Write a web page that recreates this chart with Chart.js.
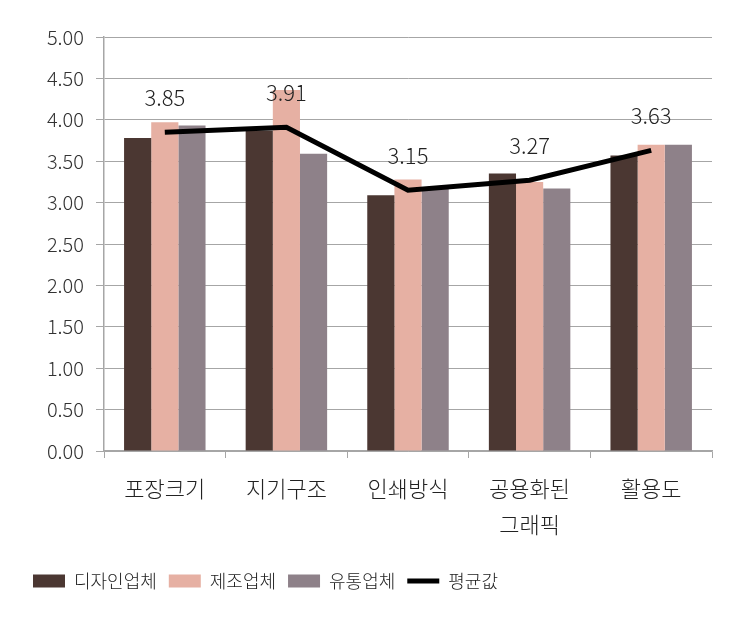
<!DOCTYPE html>
<html>
<head>
<meta charset="utf-8">
<script src="https://cdn.jsdelivr.net/npm/chart.js@4/dist/chart.umd.min.js"></script>
<style>
html,body{margin:0;padding:0;background:#fff;}
#wrap{width:749px;height:621px;position:relative;}
</style>
</head>
<body>
<div id="wrap"><canvas id="c" width="749" height="621"></canvas></div>
<script>
const categories = ['포장크기', '지기구조', '인쇄방식', ['공용화된', '그래픽'], '활용도'];
const designValues = [3.78, 3.87, 3.09, 3.35, 3.57];
const makerValues = [3.97, 4.36, 3.28, 3.25, 3.70];
const distribValues = [3.93, 3.59, 3.17, 3.17, 3.70];
const averageValues = [3.85, 3.91, 3.15, 3.27, 3.63];
const seriesNames = ['디자인업체', '제조업체', '유통업체', '평균값'];
const yTicks = [0, 0.5, 1, 1.5, 2, 2.5, 3, 3.5, 4, 4.5, 5];

const FONT = "'Noto Sans CJK KR Light', 'Noto Sans CJK KR', 'Noto Sans', sans-serif";
Chart.defaults.font.family = FONT;
Chart.defaults.font.weight = '300';
Chart.defaults.color = '#333';

const LEG_PAD = 12;
const PAD_LEFT = 33 - LEG_PAD;

const labelPlugin = {
  id: 'avgLabels',
  afterDatasetsDraw(chart) {
    const meta = chart.getDatasetMeta(3);
    const ctx = chart.ctx;
    ctx.save();
    ctx.font = "300 22px " + FONT;
    ctx.fillStyle = '#222';
    ctx.textAlign = 'center';
    ctx.textBaseline = 'middle';
    meta.data.forEach((pt, i) => {
      ctx.fillText(averageValues[i].toFixed(2), pt.x, pt.y - 35);
    });
    ctx.restore();
  }
};

new Chart(document.getElementById('c'), {
  data: {
    labels: categories,
    datasets: [
      { type: 'bar', label: seriesNames[0], data: designValues, backgroundColor: '#4b3732', order: 1 },
      { type: 'bar', label: seriesNames[1], data: makerValues, backgroundColor: '#e6b0a3', order: 1 },
      { type: 'bar', label: seriesNames[2], data: distribValues, backgroundColor: '#8e8189', order: 1 },
      { type: 'line', label: seriesNames[3], data: averageValues, borderColor: '#000', backgroundColor: '#000',
        borderWidth: 5, pointRadius: 0, tension: 0, order: 0 }
    ]
  },
  options: {
    responsive: false,
    animation: false,
    layout: { padding: { left: PAD_LEFT, right: 37, top: 37, bottom: 21 } },
    datasets: { bar: { categoryPercentage: 0.67, barPercentage: 1.0 } },
    scales: {
      x: {
        offset: true,
        grid: { drawOnChartArea: false, drawTicks: true, tickLength: 7, color: '#a6a6a6', offset: true },
        border: { color: '#a6a6a6', width: 1.5 },
        ticks: { font: { size: 22, lineHeight: 1.65 }, color: '#222', padding: 12, maxRotation: 0, autoSkip: false },
        afterFit(axis) { axis.height = 109; }
      },
      y: {
        min: 0, max: 5,
        afterBuildTicks(axis) { axis.ticks = yTicks.map(v => ({ value: v })); },
        afterFit(axis) { axis.width = 104 - PAD_LEFT; },
        grid: { color: '#a6a6a6', lineWidth: 1, tickLength: 8 },
        border: { color: '#a6a6a6', width: 1.5 },
        ticks: { font: { size: 20 }, color: '#333', padding: 12, callback: v => Number(v).toFixed(2) }
      }
    },
    plugins: {
      tooltip: { enabled: false },
      legend: {
        position: 'bottom',
        align: 'start',
        labels: {
          usePointStyle: true,
          pointStyleWidth: 32,
          boxHeight: 13,
          padding: LEG_PAD,
          font: { size: 18 },
          color: '#222',
          generateLabels(chart) {
            return chart.data.datasets.map((ds, i) => {
              const isLine = ds.type === 'line';
              return {
                text: ds.label,
                fillStyle: isLine ? '#000' : ds.backgroundColor,
                strokeStyle: isLine ? '#000' : ds.backgroundColor,
                lineWidth: isLine ? 5 : 0,
                pointStyle: isLine ? 'line' : 'rect',
                hidden: false,
                datasetIndex: i,
                fontColor: '#222'
              };
            });
          }
        }
      }
    }
  },
  plugins: [labelPlugin]
});
</script>
</body>
</html>
